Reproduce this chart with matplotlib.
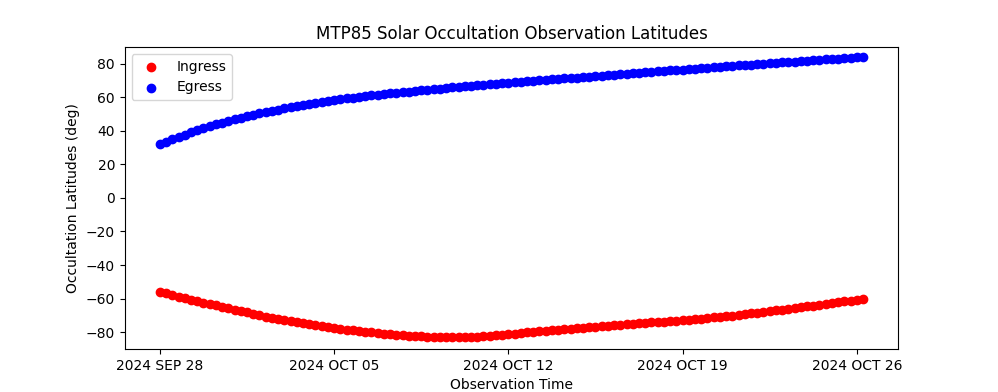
import matplotlib
matplotlib.use("Agg")
from matplotlib import pyplot as plt
import matplotlib.dates as mdates
import pandas as pd

# observation times: one sample every 6 hours starting 2024 SEP 28
start_time = "2024-09-28 00:00"
n_obs = 114

# latitudes (deg)
ingress_lat = [
    -55.8, -56.9, -57.9, -58.9, -59.8, -60.7, -61.6, -62.5, -63.3, -64.1,
    -65.0, -65.8, -66.6, -67.4, -68.3, -69.1, -69.9, -70.7, -71.4, -72.2,
    -72.9, -73.5, -74.2, -74.8, -75.4, -75.9, -76.5, -77.0, -77.5, -78.0,
    -78.5, -78.9, -79.4, -79.8, -80.2, -80.6, -81.0, -81.3, -81.6, -81.9,
    -82.2, -82.4, -82.6, -82.8, -83.0, -83.1, -83.2, -83.2, -83.2, -83.1,
    -82.9, -82.7, -82.4, -82.1, -81.8, -81.5, -81.2, -80.9, -80.6, -80.2,
    -79.9, -79.6, -79.2, -78.9, -78.6, -78.3, -77.9, -77.6, -77.3, -77.0,
    -76.7, -76.4, -76.1, -75.8, -75.5, -75.3, -75.0, -74.7, -74.5, -74.2,
    -74.0, -73.7, -73.4, -73.2, -72.9, -72.6, -72.3, -71.9, -71.6, -71.2,
    -70.9, -70.5, -70.1, -69.7, -69.3, -68.8, -68.4, -68.0, -67.5, -67.1,
    -66.6, -66.1, -65.7, -65.2, -64.7, -64.2, -63.7, -63.2, -62.7, -62.2,
    -61.7, -61.2, -60.7, -60.2,
]
egress_lat = [
    32.0, 33.5, 35.0, 36.4, 37.8, 39.1, 40.4, 41.6, 42.8, 43.9,
    45.0, 46.0, 47.0, 47.9, 48.7, 49.6, 50.4, 51.2, 51.9, 52.7,
    53.4, 54.1, 54.8, 55.4, 56.1, 56.7, 57.3, 57.8, 58.4, 58.9,
    59.4, 59.8, 60.3, 60.7, 61.2, 61.6, 62.0, 62.4, 62.7, 63.1,
    63.4, 63.8, 64.1, 64.5, 64.8, 65.2, 65.5, 65.9, 66.2, 66.5,
    66.8, 67.1, 67.4, 67.7, 68.0, 68.3, 68.6, 68.9, 69.2, 69.5,
    69.8, 70.1, 70.4, 70.7, 71.0, 71.3, 71.6, 71.8, 72.1, 72.4,
    72.7, 72.9, 73.2, 73.5, 73.8, 74.1, 74.4, 74.7, 75.0, 75.2,
    75.5, 75.8, 76.1, 76.3, 76.6, 76.9, 77.2, 77.4, 77.7, 78.0,
    78.2, 78.5, 78.7, 79.0, 79.3, 79.5, 79.8, 80.1, 80.3, 80.6,
    80.8, 81.1, 81.3, 81.6, 81.8, 82.1, 82.3, 82.6, 82.8, 83.1,
    83.3, 83.6, 83.8, 84.1,
]

tick_dates = ["2024-09-28", "2024-10-05", "2024-10-12", "2024-10-19", "2024-10-26"]

times = pd.date_range(start_time, periods=n_obs, freq="6h")

fig, ax = plt.subplots(figsize=(9.98, 3.92), dpi=100)

ax.scatter(times, ingress_lat, color="red", label="Ingress")
ax.scatter(times, egress_lat, color="blue", label="Egress")

ax.set_ylim(-90, 90)
ax.set_xticks(pd.to_datetime(tick_dates))
ax.xaxis.set_major_formatter(
    matplotlib.ticker.FuncFormatter(
        lambda v, pos: mdates.num2date(v).strftime("%Y %b %d").upper()))

ax.set_title("MTP85 Solar Occultation Observation Latitudes")
ax.set_xlabel("Observation Time")
ax.set_ylabel("Occultation Latitudes (deg)")
ax.legend(loc="upper left")

plt.savefig("out.png")
